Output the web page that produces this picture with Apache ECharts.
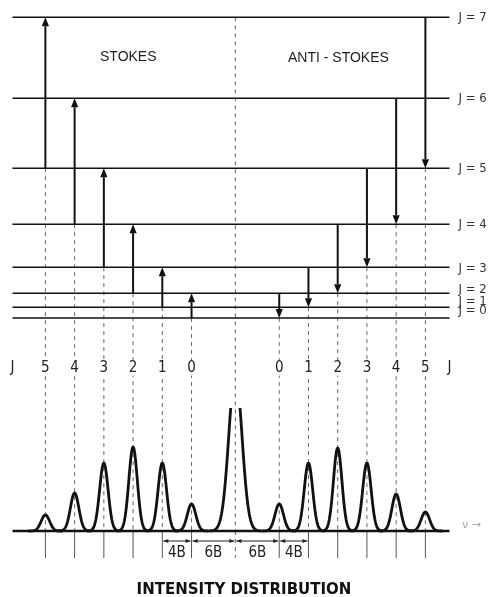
<!DOCTYPE html>
<html>
<head>
<meta charset="utf-8">
<script src="https://cdn.jsdelivr.net/npm/echarts@6/dist/echarts.min.js"></script>
<style>
  html, body { margin: 0; padding: 0; background: #fff; }
  #chart { width: 488px; height: 597px; }
</style>
</head>
<body>
<div id="chart"></div>
<script>
// rotational levels J = 0..7, height above J = 0 (as drawn, not to scale)
const levelJ = [0, 1, 2, 3, 4, 5, 6, 7];
const levelHeights = [0, 11, 25, 51, 94, 150, 220, 301];

// Raman lines, indexed by lower J; shift in units of B
const lineJ = [0, 1, 2, 3, 4, 5];
const stokesShift = [-6, -10, -14, -18, -22, -26];
const antiStokesShift = [6, 10, 14, 18, 22, 26];
const stokesIntensity = [27, 68, 84, 68, 38, 16];
const antiStokesIntensity = [27, 68, 83, 68, 37, 19];
const rayleighShift = 0;
const rayleighIntensity = 158; // runs off the top of the plot

// spacing marks under the spectrum
const spacingFrom = [-10, -6, 0, 6];
const spacingTo = [-6, 0, 6, 10];
const spacingLabels = ['4B', '6B', '6B', '4B'];

const X_MIN = -30.5, X_MAX = 29.3;
const LEVEL_MIN = -213, LEVEL_MAX = 301;
const SPEC_MIN = -27, SPEC_MAX = 123;
const LABEL_ROW = -50;
const FONT = '"Liberation Sans Narrow", "DejaVu Sans Condensed", sans-serif';

const chart = echarts.init(document.getElementById('chart'), null, { renderer: 'canvas' });

function seg(a, b, style) {
    return { type: 'line', shape: { x1: a[0], y1: a[1], x2: b[0], y2: b[1] }, style: style };
}

const dashStyle = { stroke: '#666', lineWidth: 1, lineDash: [4, 4] };

// level label nudges (px) where the bottom levels crowd together
const labelNudge = { 0: -7, 1: -6, 2: -4, 3: 1 };

const levelData = levelJ.map(j => [j, levelHeights[j]]);

const arrowData = [];
lineJ.forEach(j => {
    arrowData.push([stokesShift[j], levelHeights[j], levelHeights[j + 2]]);
    arrowData.push([antiStokesShift[j], levelHeights[j + 2], levelHeights[j]]);
});

const columnData = [];
lineJ.forEach(j => {
    columnData.push([stokesShift[j], levelHeights[j], String(j)]);
    columnData.push([antiStokesShift[j], levelHeights[j], String(j)]);
});

// peak width in units of B
const peakData = [];
lineJ.forEach(j => {
    peakData.push([stokesShift[j], stokesIntensity[j], 0.58]);
    peakData.push([antiStokesShift[j], antiStokesIntensity[j], 0.58]);
});
peakData.push([rayleighShift, rayleighIntensity, 0.9]);

const spacingData = spacingLabels.map((l, i) => [spacingFrom[i], spacingTo[i], l]);

const option = {
    backgroundColor: '#fff',
    animation: false,
    grid: [
        { left: 12.5, right: 38.5, top: 17.3, bottom: 66 },
        { left: 12.5, right: 38.5, top: 408, bottom: 39 }
    ],
    xAxis: [
        { type: 'value', gridIndex: 0, min: X_MIN, max: X_MAX, show: false },
        { type: 'value', gridIndex: 1, min: X_MIN, max: X_MAX, show: false }
    ],
    yAxis: [
        { type: 'value', gridIndex: 0, min: LEVEL_MIN, max: LEVEL_MAX, show: false },
        { type: 'value', gridIndex: 1, min: SPEC_MIN, max: SPEC_MAX, show: false }
    ],
    graphic: [
        { type: 'text', left: 'center', top: 583, style: { text: 'INTENSITY DISTRIBUTION', font: 'bold 15px "DejaVu Sans", sans-serif', fill: '#111' } },
        { type: 'text', x: 100, y: 50, style: { text: 'STOKES', font: '14px "Liberation Sans", sans-serif', fill: '#222' } },
        { type: 'text', x: 288, y: 51, style: { text: 'ANTI - STOKES', font: '14px "Liberation Sans", sans-serif', fill: '#222' } },
        { type: 'text', x: 462, y: 520, style: { text: 'ν →', font: '11px "DejaVu Sans", sans-serif', fill: '#aaa' } }
    ],
    series: [
        {
            // dashed column lines from the lower level down to the spectrum
            type: 'custom', xAxisIndex: 0, yAxisIndex: 0, silent: true,
            data: columnData.concat([[rayleighShift, LEVEL_MAX, '']]),
            renderItem: (params, api) => {
                const x = api.value(0);
                const top = api.coord([x, api.value(1)]);
                const bot = api.coord([x, LEVEL_MIN]);
                return seg(top, bot, dashStyle);
            }
        },
        {
            // column labels
            type: 'custom', xAxisIndex: 0, yAxisIndex: 0, silent: true,
            data: columnData.map(d => [d[0], LABEL_ROW]).concat([[X_MIN, LABEL_ROW], [X_MAX, LABEL_ROW]]),
            renderItem: (params, api) => {
                const p = api.coord([api.value(0), api.value(1)]);
                const d = params.dataIndex < columnData.length ? columnData[params.dataIndex][2] : 'J';
                return {
                    type: 'text', x: p[0], y: p[1],
                    style: { text: d, font: '15px ' + FONT, fill: '#222', align: 'center', verticalAlign: 'middle', backgroundColor: '#fff' }
                };
            }
        },
        {
            // energy levels
            type: 'custom', xAxisIndex: 0, yAxisIndex: 0, silent: true,
            data: levelData,
            renderItem: (params, api) => {
                const j = api.value(0);
                const h = api.value(1);
                const a = api.coord([X_MIN, h]);
                const b = api.coord([X_MAX, h]);
                return {
                    type: 'group',
                    children: [
                        seg(a, b, { stroke: '#111', lineWidth: 1.5 }),
                        {
                            type: 'text', x: b[0] + 9, y: b[1] + (labelNudge[j] || 0),
                            style: { text: 'J = ' + j, font: '13px ' + FONT, fill: '#333', align: 'left', verticalAlign: 'middle' }
                        }
                    ]
                };
            }
        },
        {
            // transitions
            type: 'custom', xAxisIndex: 0, yAxisIndex: 0, silent: true,
            data: arrowData,
            renderItem: (params, api) => {
                const x = api.value(0);
                const p0 = api.coord([x, api.value(1)]);
                const p1 = api.coord([x, api.value(2)]);
                const dir = p1[1] > p0[1] ? 1 : -1;
                const baseY = p1[1] - dir * 9;
                return {
                    type: 'group',
                    children: [
                        seg(p0, [p1[0], baseY], { stroke: '#111', lineWidth: 2 }),
                        {
                            type: 'polygon',
                            shape: { points: [[p1[0], p1[1]], [p1[0] - 3.6, baseY], [p1[0] + 3.6, baseY]] },
                            style: { fill: '#111' }
                        }
                    ]
                };
            }
        },
        {
            // ticks under the baseline
            type: 'custom', xAxisIndex: 1, yAxisIndex: 1, silent: true,
            data: columnData.map(d => [d[0]]).concat([[rayleighShift]]),
            renderItem: (params, api) => {
                const x = api.value(0);
                const a = api.coord([x, 0]);
                const b = api.coord([x, SPEC_MIN]);
                const isCentre = x === rayleighShift;
                return seg(a, b, isCentre ? dashStyle : { stroke: '#555', lineWidth: 1 });
            }
        },
        {
            // spacing marks
            type: 'custom', xAxisIndex: 1, yAxisIndex: 1, silent: true,
            data: spacingData.map(d => [d[0], d[1]]),
            renderItem: (params, api) => {
                const a = api.coord([api.value(0), -10]);
                const b = api.coord([api.value(1), -10]);
                const mid = api.coord([(api.value(0) + api.value(1)) / 2, -22]);
                return {
                    type: 'group',
                    children: [
                        seg([a[0] + 1, a[1]], [b[0] - 1, b[1]], { stroke: '#222', lineWidth: 1 }),
                        { type: 'polygon', shape: { points: [[a[0] + 1, a[1]], [a[0] + 6, a[1] - 2], [a[0] + 6, a[1] + 2]] }, style: { fill: '#222' } },
                        { type: 'polygon', shape: { points: [[b[0] - 1, b[1]], [b[0] - 6, b[1] - 2], [b[0] - 6, b[1] + 2]] }, style: { fill: '#222' } },
                        {
                            type: 'text', x: mid[0], y: mid[1],
                            style: { text: spacingData[params.dataIndex][2], font: '15px ' + FONT, fill: '#222', align: 'center', verticalAlign: 'middle' }
                        }
                    ]
                };
            }
        },
        {
            // spectrum baseline
            type: 'line', xAxisIndex: 1, yAxisIndex: 1, silent: true,
            symbol: 'none',
            data: [[X_MIN, 0], [X_MAX, 0]],
            lineStyle: { color: '#111', width: 2.6 }
        },
        {
            // spectral lines
            type: 'custom', xAxisIndex: 1, yAxisIndex: 1, silent: true, clip: true,
            data: peakData,
            renderItem: (params, api) => {
                const x = api.value(0);
                const h = api.value(1);
                const s = api.value(2);
                const pts = [];
                for (let t = -4; t <= 4.0001; t += 0.1) {
                    pts.push(api.coord([x + t * s, h * Math.exp(-t * t / 2)]));
                }
                return {
                    type: 'polyline',
                    shape: { points: pts },
                    style: { stroke: '#111', lineWidth: 2.8, fill: null, lineJoin: 'round' }
                };
            }
        }
    ]
};

chart.setOption(option);
</script>
</body>
</html>
